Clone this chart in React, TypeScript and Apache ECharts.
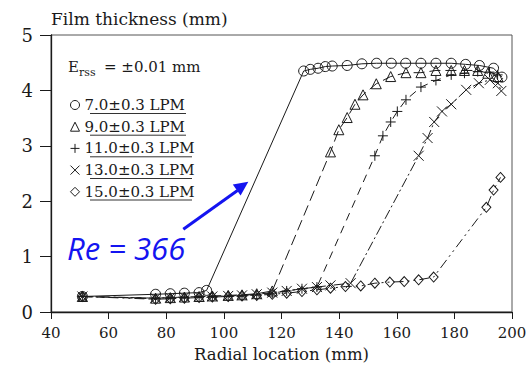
import React, { useEffect, useRef } from "react";
import * as echarts from "echarts";

// ---- data ----
const legendNames = ["7.0±0.3 LPM", "9.0±0.3 LPM", "11.0±0.3 LPM", "13.0±0.3 LPM", "15.0±0.3 LPM"];

const circleX = [50.9, 76.3, 81.4, 86.3, 91.4, 94.0, 127.7, 130.0, 132.7, 135.2, 137.6, 142.8, 147.9, 153.0, 158.1, 163.1, 168.4, 173.6, 178.9, 183.9, 188.7, 193.6, 196.5];
const circleY = [0.28, 0.32, 0.33, 0.34, 0.35, 0.39, 4.35, 4.38, 4.40, 4.43, 4.44, 4.45, 4.48, 4.49, 4.49, 4.49, 4.49, 4.49, 4.49, 4.47, 4.45, 4.40, 4.24];

const triangleX = [50.9, 76.3, 81.4, 86.3, 91.4, 96.0, 101.5, 106.3, 111.4, 116.8, 137.0, 139.9, 142.8, 145.5, 148.3, 152.9, 157.9, 163.2, 168.4, 173.6, 178.9, 183.5, 188.1, 191.6, 195.1];
const triangleY = [0.28, 0.25, 0.26, 0.27, 0.28, 0.29, 0.30, 0.31, 0.33, 0.38, 2.89, 3.29, 3.51, 3.75, 3.92, 4.12, 4.25, 4.32, 4.32, 4.36, 4.36, 4.36, 4.36, 4.31, 4.25];

const plusX = [50.9, 76.3, 81.4, 86.3, 91.4, 96.0, 101.5, 106.3, 111.4, 116.8, 121.8, 127.1, 132.3, 152.4, 155.2, 157.9, 160.2, 163.2, 168.4, 173.6, 178.9, 183.5, 188.1, 192.2, 195.0];
const plusY = [0.28, 0.24, 0.25, 0.26, 0.27, 0.27, 0.28, 0.29, 0.31, 0.34, 0.38, 0.42, 0.45, 2.82, 3.18, 3.43, 3.62, 3.83, 4.06, 4.18, 4.28, 4.31, 4.34, 4.33, 4.28];

const crossX = [50.9, 76.3, 81.4, 86.3, 91.4, 96.0, 101.5, 106.3, 111.4, 116.8, 121.8, 127.1, 132.3, 137.0, 144.0, 167.6, 170.7, 173.0, 175.7, 178.9, 184.1, 188.5, 192.3, 195.1, 196.3];
const crossY = [0.28, 0.25, 0.26, 0.27, 0.28, 0.28, 0.29, 0.30, 0.32, 0.35, 0.38, 0.42, 0.45, 0.48, 0.52, 2.82, 3.14, 3.43, 3.62, 3.75, 4.01, 4.13, 4.19, 4.13, 3.99];

const diamondX = [50.9, 76.3, 81.4, 86.3, 91.4, 96.0, 101.5, 106.3, 111.4, 116.8, 121.8, 127.1, 132.3, 137.0, 142.2, 147.5, 152.4, 157.6, 162.6, 167.6, 172.8, 191.1, 193.6, 196.0];
const diamondY = [0.28, 0.23, 0.24, 0.25, 0.26, 0.27, 0.28, 0.29, 0.30, 0.32, 0.34, 0.37, 0.40, 0.43, 0.46, 0.47, 0.52, 0.54, 0.55, 0.58, 0.63, 1.89, 2.20, 2.43];

const xTicks = { min: 40, max: 200, interval: 20 };
const yTicks = { min: 0, max: 5, interval: 1 };

const SERIF = "'DejaVu Serif', serif";
const INK = "#1a1a1a";
const BLUE = "#1414f0";

const PLUS = "path://M5,0L5,10M0,5L10,5";
const CROSS = "path://M0,0L10,10M10,0L0,10";

const seriesDefs = [
  { name: legendNames[0], xs: circleX, ys: circleY, symbol: "circle", size: 10, dash: "solid" as any },
  { name: legendNames[1], xs: triangleX, ys: triangleY, symbol: "triangle", size: 10, dash: [11, 5] },
  { name: legendNames[2], xs: plusX, ys: plusY, symbol: PLUS, size: 10, dash: [8, 6] },
  { name: legendNames[3], xs: crossX, ys: crossY, symbol: CROSS, size: 10, dash: [10, 3, 2, 3] },
  { name: legendNames[4], xs: diamondX, ys: diamondY, symbol: "diamond", size: [9, 10], dash: [10, 4, 2, 4, 2, 4] },
];

export default function App() {
  const ref = useRef<HTMLDivElement>(null);
  useEffect(() => {
    if (!ref.current) return;
    const chart = echarts.init(ref.current, undefined, { renderer: "svg" });

    const series = seriesDefs.map((d) => ({
      type: "line",
      name: d.name,
      data: d.xs.map((x, i) => [x, d.ys[i]]),
      symbol: d.symbol,
      symbolSize: d.size,
      showSymbol: true,
      showAllSymbol: true,
      silent: true,
      lineStyle: { color: INK, width: 1, type: d.dash },
      itemStyle: { color: "rgba(0,0,0,0)", borderColor: INK, borderWidth: 1 },
      emphasis: { disabled: true },
    }));

    const legendCenters = [105, 126.7, 148.3, 170, 191.5];
    const underlines = legendCenters.map((cy, i) => ({
      type: "line",
      shape: { x1: 90, y1: cy + 8.5, x2: i < 2 ? 186 : 192, y2: cy + 8.5 },
      style: { stroke: "#333", lineWidth: 1 },
      silent: true,
    }));

    chart.setOption({
      animation: false,
      backgroundColor: "#ffffff",
      grid: { left: 51, right: 18, top: 35, bottom: 60, show: true, borderColor: "#555", borderWidth: 1, backgroundColor: "transparent" },
      xAxis: {
        type: "value",
        min: xTicks.min,
        max: xTicks.max,
        interval: xTicks.interval,
        name: "Radial location (mm)",
        nameLocation: "middle",
        nameGap: 34,
        nameTextStyle: { fontFamily: SERIF, fontSize: 16.5, color: INK },
        axisLine: { show: true, onZero: false, lineStyle: { color: INK, width: 1.3 } },
        axisTick: { show: true, inside: false, length: 7, lineStyle: { color: INK, width: 1 } },
        axisLabel: { fontFamily: SERIF, fontSize: 15, color: INK, margin: 13 },
        splitLine: { show: false },
      },
      yAxis: {
        type: "value",
        min: yTicks.min,
        max: yTicks.max,
        interval: yTicks.interval,
        name: "Film thickness (mm)",
        nameLocation: "end",
        nameGap: 16,
        nameTextStyle: { fontFamily: SERIF, fontSize: 17, color: INK, align: "left", verticalAlign: "middle" },
        axisLine: { show: true, onZero: false, lineStyle: { color: INK, width: 1.3 } },
        axisTick: { show: true, inside: false, length: 11, lineStyle: { color: INK, width: 1 } },
        axisLabel: { fontFamily: SERIF, fontSize: 18, color: INK, margin: 18 },
        splitLine: { show: false },
      },
      legend: {
        orient: "vertical",
        left: 70,
        top: 97,
        padding: 0,
        itemWidth: 9,
        itemHeight: 9,
        itemGap: 5.7,
        itemTextGap: 11,
        selectedMode: false,
        data: seriesDefs.map((d) => ({ name: d.name, icon: d.symbol })),
        textStyle: { fontFamily: SERIF, fontSize: 15, lineHeight: 16, color: INK },
        itemStyle: { color: "rgba(0,0,0,0)", borderColor: INK, borderWidth: 1 },
      },
      graphic: [
        { type: "text", left: 68, top: 59, style: { text: "E", font: `15px ${SERIF}`, fill: INK }, silent: true },
        { type: "text", left: 79, top: 67, style: { text: "rss", font: `11px ${SERIF}`, fill: INK }, silent: true },
        { type: "text", left: 104, top: 59, style: { text: "= ±0.01 mm", font: `15px ${SERIF}`, fill: INK }, silent: true },
        ...underlines,
        {
          type: "text",
          left: 67,
          top: 232,
          style: { text: "Re = 366", font: `italic 31px "Open Sans", sans-serif`, fill: BLUE },
          silent: true,
        },
        {
          type: "line",
          shape: { x1: 183.3, y1: 229.3, x2: 237.5, y2: 190.5 },
          style: { stroke: BLUE, lineWidth: 3 },
          silent: true,
        },
        {
          type: "polygon",
          shape: { points: [[248.3, 181.7], [240.6, 195.4], [232.8, 184.4]] },
          style: { fill: BLUE },
          silent: true,
        },
      ],
      series,
    });

    return () => chart.dispose();
  }, []);

  return <div ref={ref} style={{ position: "fixed", left: 0, top: 0, width: 530, height: 372 }} />;
}
